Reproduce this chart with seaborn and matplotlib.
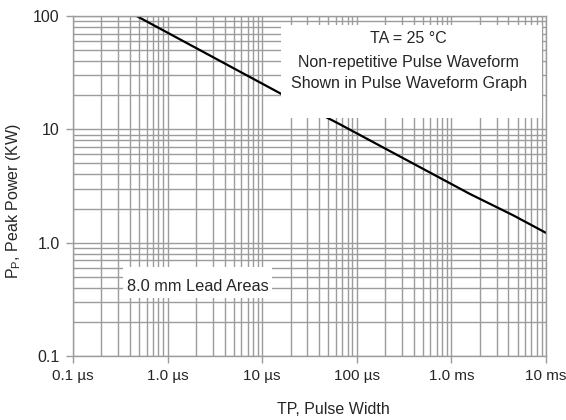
import numpy as np
import pandas as pd
import matplotlib
matplotlib.use("Agg")
import matplotlib.pyplot as plt
import matplotlib.ticker as mticker
from matplotlib.patches import Rectangle
import seaborn as sns

# Pulse width (s) and peak power (kW)
pulse_width = [0.47e-6, 15.8e-6, 66e-6, 1.57e-3, 4.52e-3, 10e-3]
peak_power = [100, 20.6, 11.1, 2.69, 1.74, 1.22]

x_ticks = [1e-7, 1e-6, 1e-5, 1e-4, 1e-3, 1e-2]
x_tick_labels = ["0.1 µs", "1.0 µs", "10 µs", "100 µs", "1.0 ms", "10 ms"]
y_ticks = [0.1, 1, 10, 100]
y_tick_labels = ["0.1", "1.0", "10", "100"]

note_lines = ["TA = 25 °C", "Non-repetitive Pulse Waveform", "Shown in Pulse Waveform Graph"]

df = pd.DataFrame({"tp": pulse_width, "pp": peak_power})

sns.set_style("white")
plt.rcParams['font.family'] = ['Liberation Sans', 'DejaVu Sans']

grid_c = "#9c9c9c"
fs = 11.5

fig = plt.figure(figsize=(5.66, 4.2), dpi=100)
ax = fig.add_axes([73/566, 64/420, 473/566, 340/420])

sns.lineplot(data=df, x="tp", y="pp", color="black", lw=1.6, ax=ax, zorder=2)

ax.set_xscale("log")
ax.set_yscale("log")
ax.set_xlim(1e-7, 1e-2)
ax.set_ylim(0.1, 100)

ax.set_xticks(x_ticks)
ax.set_xticklabels(x_tick_labels)
ax.set_yticks(y_ticks)
ax.set_yticklabels(y_tick_labels)
ax.xaxis.set_minor_locator(mticker.LogLocator(base=10, subs=np.arange(2, 10), numticks=20))
ax.yaxis.set_minor_locator(mticker.LogLocator(base=10, subs=np.arange(2, 10), numticks=20))
ax.xaxis.set_minor_formatter(mticker.NullFormatter())
ax.yaxis.set_minor_formatter(mticker.NullFormatter())

ax.grid(True, which="both", color=grid_c, lw=1.0, zorder=0)
ax.set_axisbelow(True)
ax.tick_params(which="major", length=5, width=1.0, color=grid_c, labelsize=fs, pad=4.5)
ax.tick_params(axis="x", labelsize=11)
ax.tick_params(which="minor", length=0)
ax.tick_params(axis="x", bottom=True)
ax.tick_params(axis="y", left=True)
for s in ax.spines.values():
    s.set_color(grid_c)
    s.set_linewidth(1.0)

ax.set_xlabel("TP, Pulse Width", fontsize=fs)
ax.set_ylabel(r"P$_{\mathregular{P}}$, Peak Power (KW)", fontsize=fs)
ax.xaxis.set_label_coords(0.55, -0.135)
ax.yaxis.set_label_coords(-0.105, 0.456)

# white label boxes covering the grid
ax.add_patch(Rectangle((0.440, 0.700), 0.552, 0.274, transform=ax.transAxes,
                       facecolor="white", edgecolor="none", zorder=3))
for yy, line in zip([0.920, 0.851, 0.787], note_lines):
    ax.text(0.710, yy, line, transform=ax.transAxes, ha="center", va="baseline",
            fontsize=fs, zorder=4)

ax.add_patch(Rectangle((0.106, 0.171), 0.315, 0.091, transform=ax.transAxes,
                       facecolor="white", edgecolor="none", zorder=3))
ax.text(0.2635, 0.191, "8.0 mm Lead Areas", transform=ax.transAxes,
        ha="center", va="baseline", fontsize=11.75, zorder=4)

fig.savefig("out.png", dpi=100)
